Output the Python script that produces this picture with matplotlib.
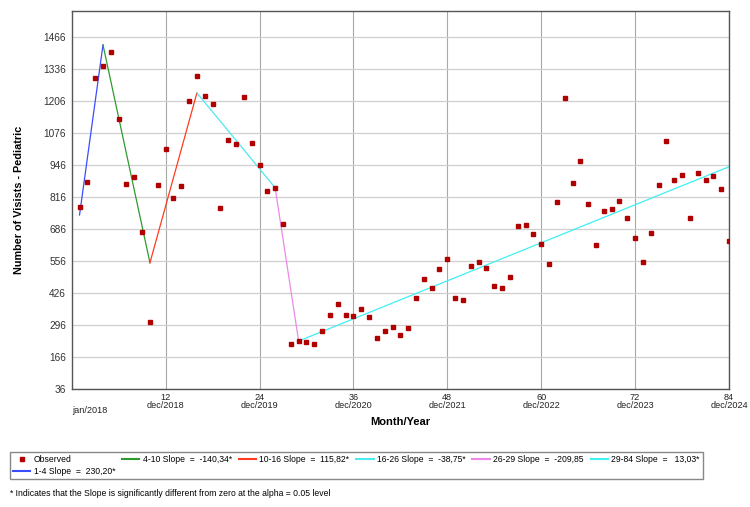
import numpy as np
import matplotlib
matplotlib.use("Agg")
import matplotlib.pyplot as plt
from matplotlib.lines import Line2D

plt.rcParams["font.family"] = ["Liberation Sans", "DejaVu Sans"]

# observed monthly visits (month index 1..84)
months = np.arange(1, 85)
visits = [777, 878, 1301, 1348, 1406, 1135, 869, 898, 676, 308,
          867, 1012, 814, 862, 1207, 1310, 1229, 1195, 771, 1050,
          1031, 1222, 1038, 947, 840, 853, 707, 220, 232, 228,
          220, 274, 337, 383, 337, 333, 361, 329, 246, 273,
          289, 258, 285, 408, 483, 448, 525, 564, 408, 399,
          538, 553, 529, 454, 448, 491, 698, 705, 668, 626,
          544, 797, 1221, 875, 962, 789, 621, 760, 770, 802,
          731, 651, 554, 672, 866, 1045, 888, 907, 733, 916,
          885, 903, 850, 638]

# joinpoint segments: start/end month and fitted value at each end
seg_x = [(1, 4), (4, 10), (10, 16), (16, 26), (26, 29), (29, 84)]
seg_y = [(744, 1435), (1435, 550), (550, 1240), (1240, 855), (855, 232), (232, 940)]
seg_labels = ["1-4 Slope  =  230,20*", "4-10 Slope  =  -140,34*", "10-16 Slope  =  115,82*",
              "16-26 Slope  =  -38,75*", "26-29 Slope  =  -209,85", "29-84 Slope  =   13,03*"]
seg_colors = ["#3a4dff", "#2f9a2f", "#ff3b1f", "#4de8f0", "#ee88e8", "#3ff0f5"]

xticks = [12, 24, 36, 48, 60, 72, 84]
xticklabels = ["12\ndec/2018", "24\ndec/2019", "36\ndec/2020", "48\ndec/2021",
               "60\ndec/2022", "72\ndec/2023", "84\ndec/2024"]
yticks = [36, 166, 296, 426, 556, 686, 816, 946, 1076, 1206, 1336, 1466]

fig = plt.figure(figsize=(7.5, 5.07), dpi=100)
ax = fig.add_axes([0.0956, 0.2322, 0.8764, 0.7467])

for x, y, c in zip(seg_x, seg_y, seg_colors):
    ax.plot(x, y, color=c, lw=0.9, zorder=2)
ax.plot(months, visits, ls="none", marker="s", ms=3.5, color="#b00000",
        mec="#b00000", zorder=3)

ax.set_xlim(0, 84)
ax.set_ylim(36, 1574)
ax.set_xticks(xticks)
ax.set_xticklabels(xticklabels, fontsize=6.6, linespacing=0.8, color="#222222")
ax.set_yticks(yticks)
ax.set_yticklabels([str(v) for v in yticks], fontsize=7.3, color="#333333")
ax.tick_params(length=0, pad=4)
ax.tick_params(axis="x", pad=3)
ax.text(2.3, -0.044, "jan/2018", transform=ax.get_xaxis_transform(),
        ha="center", va="top", fontsize=6.6, color="#222222")

ax.grid(axis="y", color="#cfcfcf", lw=0.9)
ax.grid(axis="x", color="#a8a8a8", lw=0.8)
ax.set_axisbelow(True)
for s in ax.spines.values():
    s.set_color("#555555")
    s.set_linewidth(1.0)

ax.set_xlabel("Month/Year", fontsize=8, fontweight="bold", labelpad=5)
ax.set_ylabel("Number of Visists - Pediatric", fontsize=7.8, fontweight="bold")
ax.yaxis.set_label_coords(-0.072, 0.5)

handles = [Line2D([], [], ls="none", marker="s", ms=3, color="#b00000")]
handles += [Line2D([], [], color=c, lw=1.5) for c in seg_colors]
labels = ["Observed"] + seg_labels
fig.legend(handles, labels, ncol=6, loc="upper left",
           bbox_to_anchor=(0.0133, 0.1085), fontsize=6.2,
           frameon=True, fancybox=False, edgecolor="#888888", framealpha=1,
           borderaxespad=0, handlelength=2.0, handletextpad=0.4,
           labelspacing=0.35, borderpad=0.35, columnspacing=0.8)

fig.text(0.0133, 0.026, "* Indicates that the Slope is significantly different from zero at the alpha = 0.05 level",
         fontsize=6.2, va="center", ha="left")

fig.savefig("out.png", dpi=100)
